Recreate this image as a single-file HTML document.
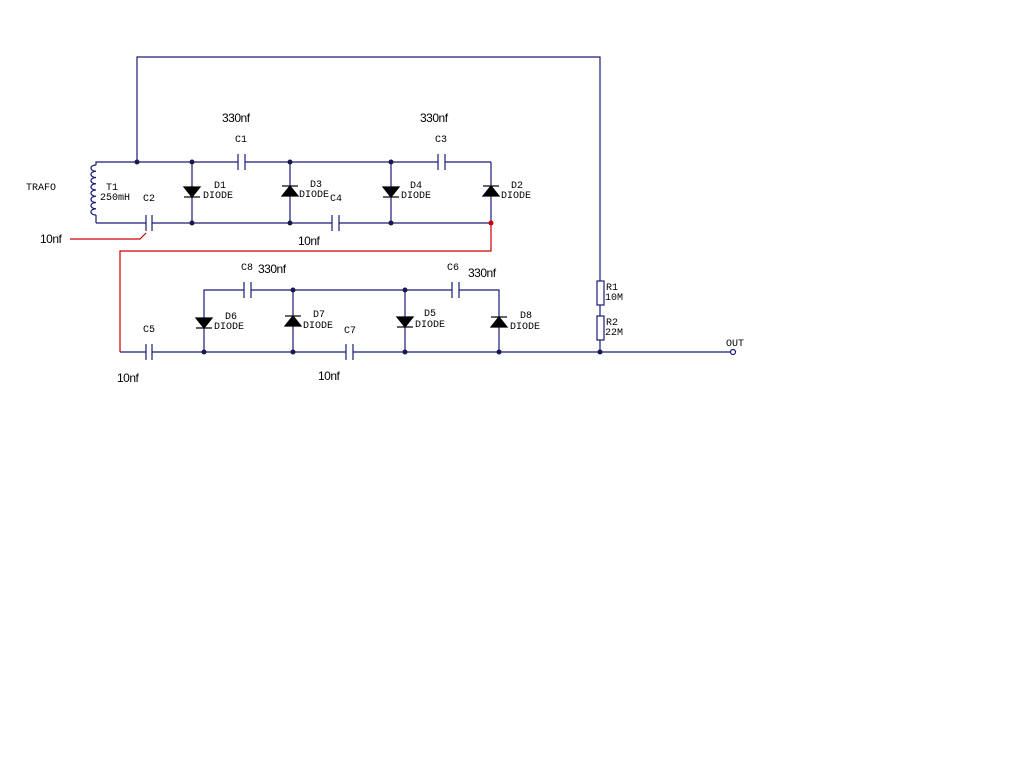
<!DOCTYPE html>
<html><head><meta charset="utf-8"><style>
html,body{margin:0;padding:0;background:#fff;width:1024px;height:768px;overflow:hidden}
svg text{font-family:"Liberation Mono",monospace;font-size:10px;fill:#000}
svg text.s{font-family:"Liberation Sans",sans-serif;font-size:12px;letter-spacing:-0.5px}
</style></head><body>
<svg width="1024" height="768" viewBox="0 0 1024 768" xmlns="http://www.w3.org/2000/svg">
<g stroke="#1a1a7a" stroke-width="1.2" fill="none">
<polyline points="137,162 137,57 600,57 600,281"/>
<rect x="597" y="281" width="7" height="24"/>
<line x1="600" y1="305" x2="600" y2="316"/>
<rect x="597" y="316" width="7" height="24"/>
<line x1="600" y1="340" x2="600" y2="352"/>
<polyline points="96,165 96,162 238,162"/>
<line x1="245" y1="162" x2="438" y2="162"/>
<line x1="445" y1="162" x2="491" y2="162"/>
<line x1="238" y1="154" x2="238" y2="170"/><line x1="245" y1="154" x2="245" y2="170"/>
<line x1="438" y1="154" x2="438" y2="170"/><line x1="445" y1="154" x2="445" y2="170"/>
<line x1="96" y1="215" x2="96" y2="223"/>
<path d="M96,165 a5,3.1 0 1 0 0,6.25 a5,3.1 0 1 0 0,6.25 a5,3.1 0 1 0 0,6.25 a5,3.1 0 1 0 0,6.25 a5,3.1 0 1 0 0,6.25 a5,3.1 0 1 0 0,6.25 a5,3.1 0 1 0 0,6.25 a5,3.1 0 1 0 0,6.25"/>
<line x1="96" y1="223" x2="146" y2="223"/>
<line x1="152" y1="223" x2="332" y2="223"/>
<line x1="339" y1="223" x2="491" y2="223"/>
<line x1="146" y1="215" x2="146" y2="231"/><line x1="152" y1="215" x2="152" y2="231"/>
<line x1="332" y1="215" x2="332" y2="231"/><line x1="339" y1="215" x2="339" y2="231"/>
<line x1="192" y1="162" x2="192" y2="223"/>
<line x1="290" y1="162" x2="290" y2="223"/>
<line x1="391" y1="162" x2="391" y2="223"/>
<line x1="491" y1="162" x2="491" y2="223"/>
<polyline points="204,352 204,290 244,290"/>
<line x1="251" y1="290" x2="452" y2="290"/>
<polyline points="459,290 499,290 499,352"/>
<line x1="244" y1="282" x2="244" y2="298"/><line x1="251" y1="282" x2="251" y2="298"/>
<line x1="452" y1="282" x2="452" y2="298"/><line x1="459" y1="282" x2="459" y2="298"/>
<line x1="293" y1="290" x2="293" y2="352"/>
<line x1="405" y1="290" x2="405" y2="352"/>
<line x1="120" y1="352" x2="146" y2="352"/>
<line x1="152" y1="352" x2="346" y2="352"/>
<line x1="353" y1="352" x2="730" y2="352"/>
<line x1="146" y1="344" x2="146" y2="360"/><line x1="152" y1="344" x2="152" y2="360"/>
<line x1="346" y1="344" x2="346" y2="360"/><line x1="353" y1="344" x2="353" y2="360"/>
<circle cx="733" cy="352" r="2.5"/>
</g>
<g fill="#000" stroke="#000" stroke-width="1.2">
<polygon points="184,187 200,187 192,197"/><line x1="184" y1="197" x2="200" y2="197"/>
<polygon points="282,196 298,196 290,186"/><line x1="282" y1="186" x2="298" y2="186"/>
<polygon points="383,187 399,187 391,197"/><line x1="383" y1="197" x2="399" y2="197"/>
<polygon points="483,196 499,196 491,186"/><line x1="483" y1="186" x2="499" y2="186"/>
<polygon points="196,318 212,318 204,328"/><line x1="196" y1="328" x2="212" y2="328"/>
<polygon points="285,326 301,326 293,316"/><line x1="285" y1="316" x2="301" y2="316"/>
<polygon points="397,317 413,317 405,327"/><line x1="397" y1="327" x2="413" y2="327"/>
<polygon points="491,327 507,327 499,317"/><line x1="491" y1="317" x2="507" y2="317"/>
</g>
<g fill="#1a1a4a">
<circle cx="137" cy="162" r="2.5"/><circle cx="192" cy="162" r="2.5"/><circle cx="290" cy="162" r="2.5"/><circle cx="391" cy="162" r="2.5"/>
<circle cx="192" cy="223" r="2.5"/><circle cx="290" cy="223" r="2.5"/><circle cx="391" cy="223" r="2.5"/>
<circle cx="293" cy="290" r="2.5"/><circle cx="405" cy="290" r="2.5"/>
<circle cx="204" cy="352" r="2.5"/><circle cx="293" cy="352" r="2.5"/><circle cx="405" cy="352" r="2.5"/><circle cx="499" cy="352" r="2.5"/><circle cx="600" cy="352" r="2.5"/>
</g>
<g stroke="#cc0000" stroke-width="1.2" fill="none">
<polyline points="491,223 491,251 120,251 120,352"/>
<polyline points="70,239 140,239 146,233"/>
</g>
<circle cx="491" cy="223" r="2.5" fill="#cc0000"/>
<text x="26" y="190">TRAFO</text>
<text x="106" y="190">T1</text>
<text x="100" y="200">250mH</text>
<text x="143" y="201">C2</text>
<text x="214" y="188">D1</text>
<text x="203" y="198">DIODE</text>
<text x="310" y="187">D3</text>
<text x="299" y="197">DIODE</text>
<text x="330" y="201">C4</text>
<text x="410" y="188">D4</text>
<text x="401" y="198">DIODE</text>
<text x="511" y="188">D2</text>
<text x="501" y="198">DIODE</text>
<text x="235" y="142">C1</text>
<text x="435" y="142">C3</text>
<text class="s" x="222" y="122">330nf</text>
<text class="s" x="420" y="122">330nf</text>
<text class="s" x="40" y="243">10nf</text>
<text class="s" x="298" y="245">10nf</text>
<text x="241" y="270">C8</text>
<text class="s" x="258" y="273">330nf</text>
<text x="447" y="270">C6</text>
<text class="s" x="468" y="277">330nf</text>
<text x="225" y="319">D6</text>
<text x="214" y="329">DIODE</text>
<text x="313" y="317">D7</text>
<text x="303" y="328">DIODE</text>
<text x="344" y="333">C7</text>
<text x="424" y="316">D5</text>
<text x="415" y="327">DIODE</text>
<text x="520" y="318">D8</text>
<text x="510" y="329">DIODE</text>
<text x="143" y="332">C5</text>
<text class="s" x="117" y="382">10nf</text>
<text class="s" x="318" y="380">10nf</text>
<text x="606" y="290">R1</text>
<text x="605" y="300">10M</text>
<text x="606" y="325">R2</text>
<text x="605" y="335">22M</text>
<text x="726" y="346">OUT</text>
</svg>
</body></html>
